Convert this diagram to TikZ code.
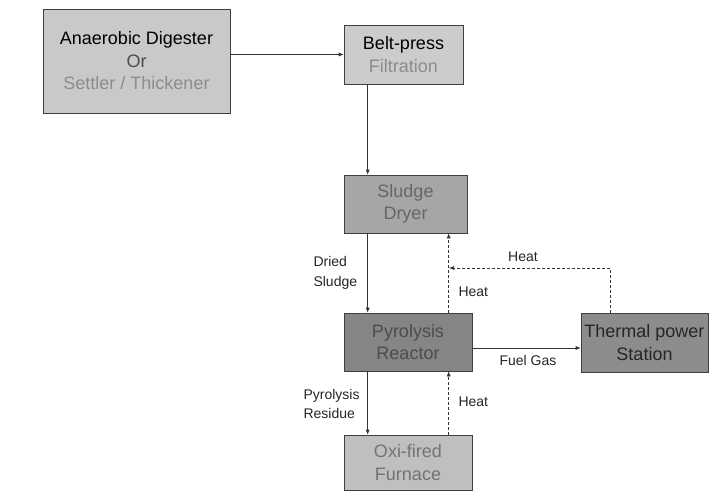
\documentclass[tikz,border=0pt]{standalone}
\usepackage{fontspec}
\setmainfont{Liberation Sans}
\usetikzlibrary{arrows.meta}

\begin{document}
\begin{tikzpicture}[x=1pt, y=-1pt, >={Latex[length=5pt,width=4pt]},
    unit/.style={draw=black!75, line width=0.6pt, align=center, inner sep=0pt, font=\fontsize{18}{22.5}\selectfont},
    flow/.style={->, line width=0.6pt, draw=black!80},
    heat/.style={->, line width=0.6pt, densely dashed, draw=black!80},
    lbl/.style={font=\fontsize{14}{19.5}\selectfont, align=left, text=black!85}]

    \useasboundingbox (0,0) rectangle (718,493);

    % Digester
    \node[unit, fill=black!21, minimum width=187pt, minimum height=104pt] (digester) at (136.5,61)
        {Anaerobic Digester\\{\color{black!70}Or}\\{\color{black!45}Settler / Thickener}};

    % Belt-press
    \node[unit, fill=black!20, minimum width=119pt, minimum height=59pt] (beltpress) at (403.5,54.5)
        {Belt-press\\{\color{black!45}Filtration}};

    % Dryer
    \node[unit, fill=black!35, text=black!60, minimum width=123pt, minimum height=58pt] (dryer) at (405.5,204)
        {Sludge\\Dryer};

    % Reactor
    \node[unit, fill=black!48, text=black!70, minimum width=128pt, minimum height=58pt] (reactor) at (408,342)
        {Pyrolysis\\Reactor};

    % Thermal power
    \node[unit, fill=black!45, text=black!85, minimum width=127pt, minimum height=59pt] (thermal) at (644.5,342.5)
        {Thermal power\\Station};

    % Furnace
    \node[unit, fill=black!25, text=black!55, minimum width=128pt, minimum height=55pt] (furnace) at (408,462.5)
        {Oxi-fired\\Furnace};

    % sludge flow
    \draw[flow] (digester.east |- beltpress.west) -- (beltpress.west);
    \draw[flow] ([xshift=24pt]beltpress.south west) -- ([xshift=24pt]dryer.north west);
    \draw[flow] ([xshift=24pt]dryer.south west) -- ([xshift=24pt]reactor.north west);
    \node[lbl, anchor=west] (dried) at (310,273) {Dried\\Sludge};
    \draw[flow] ([xshift=24pt]reactor.south west) -- ([xshift=24pt]furnace.north west);
    \node[lbl, anchor=west] (residue) at (300,404) {Pyrolysis\\Residue};

    % fuel gas
    \draw[flow] ([yshift=-6pt]reactor.east) -- ([yshift=-6pt]reactor.east -| thermal.west);
    \node[lbl] (fuelgas) at (528,360) {Fuel Gas};

    % heat
    \draw[heat] ([xshift=105pt]reactor.north west) -- ([xshift=105pt]reactor.north west |- dryer.south);
    \node[lbl, anchor=west] (heatup) at (455,292) {Heat};
    \coordinate (heatjoin) at (449,268);
    \draw[heat] ([xshift=30pt]thermal.north west) |- (heatjoin);
    \node[lbl] (heatback) at (523,257) {Heat};
    \draw[heat] ([xshift=105pt]furnace.north west) -- ([xshift=105pt]furnace.north west |- reactor.south);
    \node[lbl, anchor=west] (heatlow) at (455,402) {Heat};

\end{tikzpicture}
\end{document}
